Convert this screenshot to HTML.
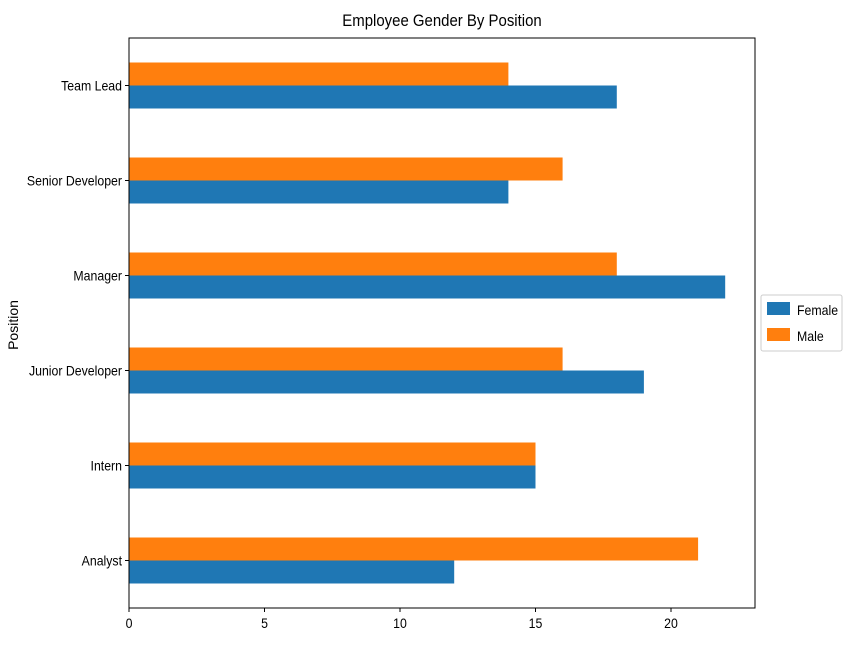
<!DOCTYPE html>
<html><head><meta charset="utf-8"><style>
body{margin:0;background:#fff;}
svg text{font-family:"Liberation Sans Narrow","Liberation Sans",sans-serif;fill:#000;}
</style></head><body>
<svg id="chart" width="850" height="650" xmlns="http://www.w3.org/2000/svg">
<text transform="translate(442,26) scale(0.88,1)" font-size="17" text-anchor="middle">Employee Gender By Position</text>
<text transform="translate(18,325) rotate(-90)" font-size="14" text-anchor="middle" style="font-family:'Liberation Sans',sans-serif">Position</text>
<g id="bars"></g>
<g id="axes"></g>
<g>
<rect x="761" y="295" width="81" height="56" fill="#fff" stroke="#ccc" rx="2"/>
<g><rect x="767" y="302" width="23" height="13" fill="#1f77b4"/><text transform="translate(797,315) scale(0.88,1)" font-size="14">Female</text></g>
<g><rect x="767" y="328" width="23" height="13" fill="#ff7f0e"/><text transform="translate(797,341) scale(0.88,1)" font-size="14">Male</text></g>
</g>
</svg>
<script>
const categories=["Analyst","Intern","Junior Developer","Manager","Senior Developer","Team Lead"];
const female=[12,15,19,22,14,18];
const male=[21,15,16,18,16,14];
const xTicks=[0,5,10,15,20];
const L=129,R=755,T=38,B=608,XMAX=23.1;
const NS="http://www.w3.org/2000/svg";
const xs=v=>L+v/XMAX*(R-L);
const band=(B-T)/categories.length;
const yc=i=>B-(i+0.5)*band;
const bh=23;
function mk(tag,attrs,parent){const e=document.createElementNS(NS,tag);for(const k in attrs)e.setAttribute(k,attrs[k]);parent.appendChild(e);return e;}
const gb=document.getElementById('bars'),ga=document.getElementById('axes');
categories.forEach((c,i)=>{
 const m=mk('rect',{x:L,y:yc(i)-bh,width:xs(male[i])-L,height:bh,fill:'#ff7f0e'},gb);
 
 
 const f=mk('rect',{x:L,y:yc(i),width:xs(female[i])-L,height:bh,fill:'#1f77b4'},gb);
 
 
 mk('line',{x1:L-4,x2:L,y1:yc(i),y2:yc(i),stroke:'#000'},ga);
 const t=mk('text',{transform:'translate('+(L-7)+','+(yc(i)+5)+') scale(0.88,1)','font-size':14,'text-anchor':'end'},ga);
 t.textContent=c;
 
 
});
xTicks.forEach(v=>{
 mk('line',{x1:xs(v),x2:xs(v),y1:B,y2:B+4,stroke:'#000'},ga);
 const t=mk('text',{transform:'translate('+xs(v)+','+(B+20)+') scale(0.88,1)','font-size':14,'text-anchor':'middle'},ga);
 t.textContent=v;
 
 
});
const fr=mk('rect',{x:L,y:T,width:R-L,height:B-T,fill:'none',stroke:'#000','stroke-width':1},ga);


</script>
</body></html>
